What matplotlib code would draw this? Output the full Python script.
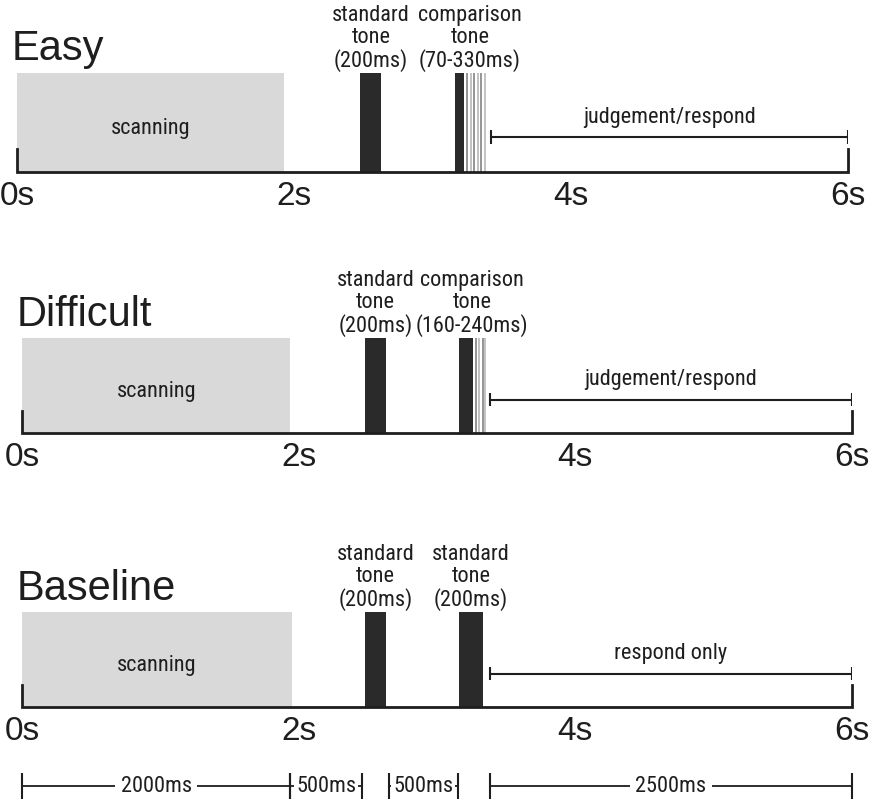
import matplotlib.pyplot as plt
from matplotlib import font_manager

# panel data (times in seconds)
panel_names = ['Easy', 'Difficult', 'Baseline']
scan_end = [1.93, 1.94, 1.95]
tone1 = [(2.48, 2.63), (2.48, 2.63), (2.48, 2.63)]
tone2 = [(3.16, 3.23), (3.16, 3.26), (3.16, 3.33)]
tone2_grey = [[3.25, 3.28, 3.30, 3.33, 3.35, 3.38],
              [3.28, 3.30, 3.33, 3.35],
              []]
tone1_labels = ['standard\ntone\n(200ms)'] * 3
tone2_labels = ['comparison\ntone\n(70-330ms)',
                'comparison\ntone\n(160-240ms)',
                'standard\ntone\n(200ms)']
resp_start = [3.42, 3.38, 3.38]
resp_labels = ['judgement/respond', 'judgement/respond', 'respond only']
tick_vals = [0, 2, 4, 6]
tick_labels = ['0s', '2s', '4s', '6s']

# bottom duration scale
seg_start = [0.0, 1.94, 2.65, 3.38]
seg_end = [1.94, 2.46, 3.15, 6.0]
seg_labels = ['2000ms', '500ms', '500ms', '2500ms']

W, H = 881, 801
REG = ['Liberation Sans', 'DejaVu Sans']
DARK = '#1e1e1e'

# pick a condensed face if one is installed, else shrink the regular one
names = {f.name for f in font_manager.fontManager.ttflist}
narrow_opts = ['Liberation Sans Narrow', 'Roboto Condensed', 'Open Sans Condensed',
               'DejaVu Sans Condensed']
narrow = [n for n in narrow_opts if n in names]
if narrow:
    NFONT = dict(family=[narrow[0], 'DejaVu Sans'], fontsize=16)
else:
    NFONT = dict(family=REG, fontsize=14)

# pixel layout of each panel: x of 0s, x of 6s, y of timeline, y of box top
layout = [(17, 848, 172, 73), (22, 852, 433, 338), (22, 852, 707, 612)]

fig = plt.figure(figsize=(W / 100, H / 100), dpi=100)

for i, name in enumerate(panel_names):
    x0, x6, yb, yt = layout[i]
    ax = fig.add_axes([x0 / W, 1 - yb / H, (x6 - x0) / W, (yb - yt) / H])
    ax.set_xlim(0, 6)
    ax.set_ylim(0, 1)
    ax.axis('off')

    # scanning block
    ax.axvspan(0, scan_end[i], ymin=0, ymax=1, color='#d9d9d9', lw=0, zorder=0)
    ax.text(scan_end[i] / 2, 0.38, 'scanning', ha='center', va='baseline',
            color=DARK, **NFONT)

    # tones
    for (s, e) in [tone1[i], tone2[i]]:
        ax.bar(s, 1, width=e - s, align='edge', color='#2a2a2a', zorder=2)
    for k, g in enumerate(tone2_grey[i]):
        ax.axvline(g, 0, 1, color='#8c8c8c' if k % 2 == 0 else '#bdbdbd',
                   lw=1.3, zorder=1)

    ax.text(sum(tone1[i]) / 2, 1.01, tone1_labels[i], ha='center', va='bottom',
            color=DARK, linespacing=1.05, **NFONT)
    mid2 = (tone2[i][0] + max([tone2[i][1]] + tone2_grey[i])) / 2
    ax.text(mid2, 1.01, tone2_labels[i], ha='center', va='bottom',
            color=DARK, linespacing=1.05, **NFONT)

    # timeline
    ax.plot([0, 0, 6, 6], [0.23, 0, 0, 0.23], color=DARK, lw=2,
            clip_on=False, solid_joinstyle='miter', zorder=3)
    for v, lab in zip(tick_vals, tick_labels):
        ax.text(v, -0.09, lab, ha='center', va='top', fontsize=24,
                family=REG, color=DARK)

    # response bracket
    rs = resp_start[i]
    ax.hlines(0.35, rs, 6, color=DARK, lw=1.5)
    ax.vlines([rs, 6], 0.28, 0.42, color=DARK, lw=1.5)
    ax.text((rs + 6) / 2, 0.5, resp_labels[i], ha='center', va='baseline',
            color=DARK, **NFONT)

    ax.text(-0.04, 1.13, name, ha='left', va='baseline', fontsize=30,
            family=REG, color=DARK)

# duration scale under the last panel
x0, x6 = 22, 852
yc = 786
axs = fig.add_axes([x0 / W, 1 - (yc + 13) / H, (x6 - x0) / W, 26 / H])
axs.set_xlim(0, 6)
axs.set_ylim(-1, 1)
axs.axis('off')
for s, e, lab in zip(seg_start, seg_end, seg_labels):
    axs.hlines(0, s, e, color=DARK, lw=1.3, zorder=1)
    axs.vlines([s, e], -1, 1, color=DARK, lw=1.5, clip_on=False, zorder=5)
    pad = 4 if e - s > 1 else 1.5
    axs.text((s + e) / 2, 0, lab, ha='center', va='center', color=DARK,
             zorder=2, bbox=dict(facecolor='white', edgecolor='none', pad=pad),
             **NFONT)

fig.savefig('out.png', dpi=100, facecolor='white')
